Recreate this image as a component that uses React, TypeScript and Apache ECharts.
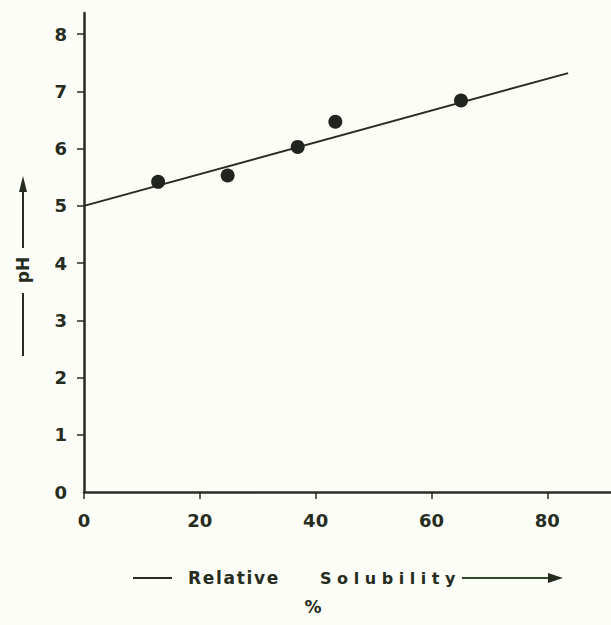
import React, { useEffect, useRef } from "react";
import * as echarts from "echarts";

const solubility = [12.8, 24.8, 36.9, 43.4, 65.1];
const phValues = [5.42, 5.53, 6.03, 6.47, 6.84];
const fitX = [0, 83.6];
const fitY = [5.0, 7.32];
const xTicks = [0, 20, 40, 60, 80];
const yTicks = [0, 1, 2, 3, 4, 5, 6, 7, 8];

const INK = "#262c1e";
const FONT = "DejaVu Sans";

export default function App() {
  const ref = useRef<HTMLDivElement>(null);
  useEffect(() => {
    if (!ref.current) return;
    const chart = echarts.init(ref.current, undefined, { renderer: "svg" });
    const txt = (x: number, y: number, text: string, extra: any = {}) => ({
      type: "text",
      x,
      y,
      style: {
        text,
        fill: INK,
        font: `bold 17px "${FONT}"`,
        textVerticalAlign: "middle",
        ...extra,
      },
    });
    chart.setOption({
      animation: false,
      backgroundColor: "#fdfdf7",
      grid: { left: 84, right: 0, top: 13, bottom: 133 },
      xAxis: {
        type: "value",
        min: 0,
        max: 91,
        interval: 20,
        axisLine: { show: true, onZero: false, lineStyle: { color: "#2e2a28", width: 2.5 } },
        axisTick: { show: true, length: 7, customValues: xTicks, lineStyle: { color: INK, width: 1.5 } },
        axisLabel: {
          customValues: xTicks,
          color: INK,
          fontFamily: FONT,
          fontWeight: "bold",
          fontSize: 18,
          margin: 19,
        },
        splitLine: { show: false },
      },
      yAxis: {
        type: "value",
        min: 0,
        max: 8.37,
        interval: 1,
        axisLine: { show: true, onZero: false, lineStyle: { color: INK, width: 2.5 } },
        axisTick: { show: true, length: 7, customValues: yTicks.slice(1), lineStyle: { color: INK, width: 1.5 } },
        axisLabel: {
          customValues: yTicks,
          color: INK,
          fontFamily: FONT,
          fontWeight: "bold",
          fontSize: 18,
          margin: 17,
        },
        splitLine: { show: false },
      },
      series: [
        {
          type: "line",
          data: fitX.map((x, i) => [x, fitY[i]]),
          showSymbol: false,
          symbol: "none",
          lineStyle: { color: INK, width: 2 },
          z: 2,
        },
        {
          type: "scatter",
          data: solubility.map((x, i) => [x, phValues[i]]),
          symbolSize: 14,
          itemStyle: { color: "#22251f", opacity: 1 },
          z: 3,
        },
      ],
      graphic: [
        // y-axis name
        { type: "line", shape: { x1: 23, y1: 248, x2: 23, y2: 186 }, style: { stroke: INK, lineWidth: 2 } },
        { type: "polygon", shape: { points: [[23, 176], [19, 192], [27, 192]] }, style: { fill: INK } },
        {
          type: "text",
          x: 23,
          y: 270,
          rotation: Math.PI / 2,
          style: {
            text: "pH",
            fill: INK,
            font: `bold 17px "${FONT}"`,
            textAlign: "center",
            textVerticalAlign: "middle",
          },
        },
        { type: "line", shape: { x1: 23, y1: 293, x2: 23, y2: 356 }, style: { stroke: INK, lineWidth: 2 } },
        // x-axis name
        { type: "line", shape: { x1: 133, y1: 578, x2: 172, y2: 578 }, style: { stroke: INK, lineWidth: 2 } },
        txt(188, 578, "R\u200ae\u200al\u200aa\u200at\u200ai\u200av\u200ae"),
        txt(320, 578, "S o l u b i l i t y", { font: `bold 16px "${FONT}"` }),
        { type: "line", shape: { x1: 462, y1: 578, x2: 552, y2: 578 }, style: { stroke: "#2c4a24", lineWidth: 2 } },
        { type: "polygon", shape: { points: [[563, 578], [548, 573], [548, 583]] }, style: { fill: INK } },
        txt(313, 607, "%", { textAlign: "center", font: `bold 17px "${FONT}"` }),
      ],
    });
    return () => chart.dispose();
  }, []);
  return (
    <div
      ref={ref}
      style={{ position: "fixed", left: 0, top: 0, width: 611, height: 625 }}
    />
  );
}
